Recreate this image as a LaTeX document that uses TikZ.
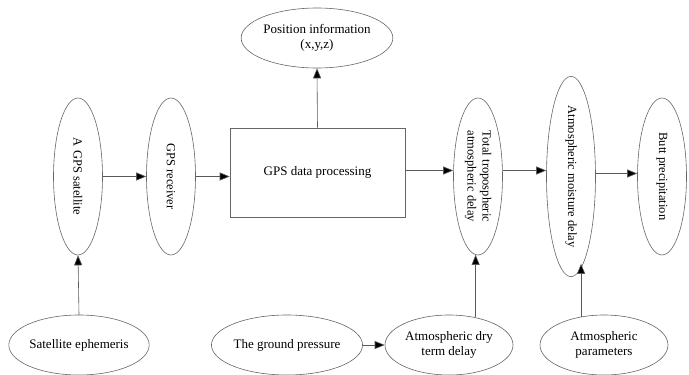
\documentclass[tikz,border=0pt]{standalone}
\usepackage{fontspec}
\setmainfont{Liberation Serif}
\usetikzlibrary{shapes.geometric,arrows.meta}
\begin{document}
\begin{tikzpicture}[x=1pt,y=-1pt,
  vell/.style={ellipse,draw=black!60,line width=0.6pt,inner sep=0pt,minimum width=49pt,minimum height=157pt,font=\fontsize{12.5}{15}\selectfont},
  hell/.style={ellipse,draw=black!60,line width=0.6pt,inner sep=0pt,minimum width=128pt,minimum height=60pt,align=center,font=\fontsize{13}{15}\selectfont},
  procbox/.style={rectangle,draw=black!60,line width=0.6pt,minimum width=175pt,minimum height=89pt,font=\fontsize{13}{15}\selectfont},
  arr/.style={draw=black!65,line width=0.6pt,-{Triangle[length=10pt,width=8pt,fill=black]}},
  plain/.style={draw=black!65,line width=0.6pt}
]
\useasboundingbox (0,0) rectangle (689,375);
\node[vell] (sat) at (78,176.5) {\rotatebox{-90}{A GPS satellite}};
\node[vell] (rec) at (171,176.5) {\rotatebox{-90}{GPS receiver}};
\node[procbox] (box) at (317.5,172.5) {GPS data processing};
\node[hell,minimum width=127pt] (pos) at (317,38) {Position information\\(x,y,z)};
\node[vell] (tot) at (478,176.5) {\rotatebox{-90}{\begin{tabular}{@{}c@{}}Total tropospheric\\atmospheric delay\end{tabular}}};
\node[vell] (moi) at (571,176.5) {\rotatebox{-90}{Atmospheric moisture delay}};
\node[vell] (pre) at (662,176.5) {\rotatebox{-90}{Butt precipitation}};
\node[hell] (eph) at (79,345) {Satellite ephemeris};
\node[hell] (gp) at (287,345) {The ground pressure};
\node[hell] (dry) at (449,345) {Atmospheric dry\\term delay};
\node[hell] (ap) at (604,345) {Atmospheric\\parameters};

\draw[arr] (sat.east) -- (rec.west);
\draw[arr] (rec.east) -- (rec.east -| box.west);
\draw[arr] (box.north) -- (pos.south);
\draw[arr] ([yshift=2pt]box.east) -- ([yshift=2pt]box.east -| tot.west);
\draw[arr] ([yshift=6pt]tot.east) -- ([yshift=6pt]moi.west);
\draw[arr] ([yshift=3pt]moi.east) -- ([yshift=3pt]pre.west);
\draw[arr] (eph.north) -- (sat.south);
\draw[arr] (gp.east) -- (dry.west);
\draw[arr] (dry.46) -- (dry.46 |- tot.-92);
\draw[arr] (ap.129) -- (ap.129 |- moi.-82);
\end{tikzpicture}
\end{document}
